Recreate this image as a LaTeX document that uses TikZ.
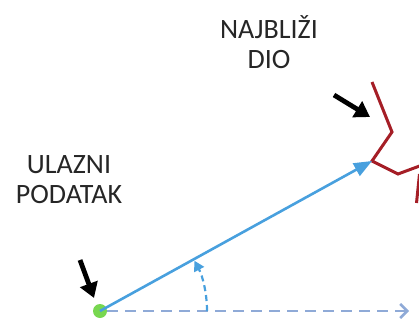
\documentclass[tikz,border=0pt]{standalone}
\usepackage{fontspec}
\setmainfont{Carlito}
\usetikzlibrary{arrows.meta}
\definecolor{vecblue}{RGB}{72,160,222}
\definecolor{axisblue}{RGB}{143,170,215}
\definecolor{partred}{RGB}{165,30,38}
\begin{document}
\begin{tikzpicture}[x=1pt,y=-1pt,
  lbl/.style={font=\fontsize{28}{30}\selectfont, text=black!85, align=center, inner sep=0pt},
  pointer/.style={line width=4.8pt, -{Triangle[width=18pt,length=15pt]}},
  vec/.style={vecblue, line width=2.6pt, -{Triangle[width=14pt,length=18pt]}},
  axis/.style={axisblue, line width=2.6pt, dash pattern=on 11pt off 7pt, -{Straight Barb[width=14pt,length=7pt,line width=2.6pt]}},
  partline/.style={partred, line width=3pt, line join=miter}]
\useasboundingbox (0,0) rectangle (419,320);
\begin{scope}
\clip (0,0) rectangle (419,320);
% red part
\coordinate (r1) at (372,82);
\coordinate (r2) at (392,132);
\coordinate (q) at (372,161);
\coordinate (r4) at (398,174);
\coordinate (r5) at (425,164);
\draw[partline] (r1) -- (r2) -- (q) -- (r4) -- (r5);
\coordinate (s1) at (419.5,174);
\coordinate (s2) at (416.5,203);
\draw[partline] (s1) -- (s2);
\end{scope}
% input point
\node[circle, fill={rgb,255:red,120;green,215;blue,80}, minimum size=14pt, inner sep=0pt] (p) at (100,311) {};
\coordinate (xend) at (409,311);
\draw[axis] (p.east) -- (xend);
\draw[vec] (p.center) -- (q);
% angle arc
\draw[vecblue, line width=2.2pt, dash pattern=on 6pt off 4pt, -{Triangle[width=11pt,length=10pt]}]
  (207,311) arc[start angle=0, end angle=-28, radius=107];
% labels
\node[lbl] (t1) at (69,180) {ULAZNI\\PODATAK};
\node[lbl] (t2) at (269,42) {NAJBLIŽI\\DIO};
% pointer arrows
\coordinate (a1s) at (80,260);
\coordinate (a1e) at (94,298);
\draw[pointer] (a1s) -- (a1e);
\coordinate (a2s) at (334,95);
\coordinate (a2e) at (370,117);
\draw[pointer] (a2s) -- (a2e);
\end{tikzpicture}
\end{document}
